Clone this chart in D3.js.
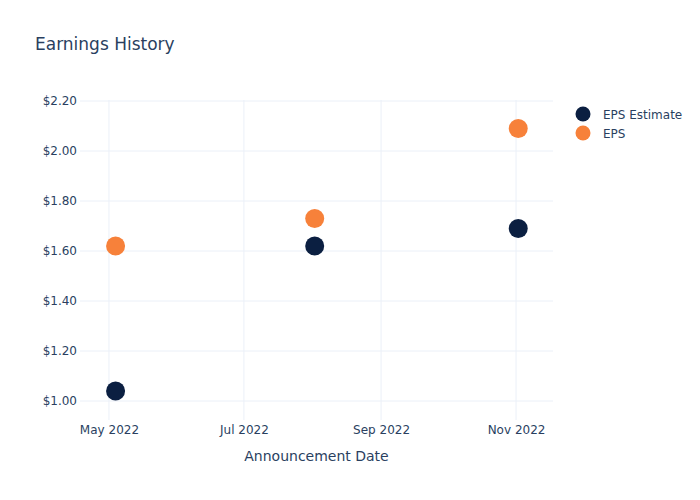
<!DOCTYPE html>
<html>
<head>
<meta charset="utf-8">
<script src="https://cdn.jsdelivr.net/npm/d3@7"></script>
<style>
  html, body { margin: 0; padding: 0; background: #fff; }
  svg { display: block; font-family: "DejaVu Sans", sans-serif; }
</style>
</head>
<body>
<svg id="chart" width="700" height="500"></svg>
<script>
// ---- data ----
const dates = ["2022-05-04", "2022-08-02", "2022-11-02"];
const epsEstimate = [1.04, 1.62, 1.69];
const eps = [1.62, 1.73, 2.09];
const seriesNames = ["EPS Estimate", "EPS"];
const yTicks = [1.0, 1.2, 1.4, 1.6, 1.8, 2.0, 2.2];
const xTicks = ["2022-05-01", "2022-07-01", "2022-09-01", "2022-11-01"];

// ---- layout ----
const W = 700, H = 500;
const margin = { left: 80, right: 147, top: 100, bottom: 80 };
const pw = W - margin.left - margin.right;
const ph = H - margin.top - margin.bottom;
const textColor = "#2a3f5f";
const gridColor = "#ebf0f8";
const colors = ["#0b1f41", "#f7813a"];

const parse = d3.utcParse("%Y-%m-%d");
const svg = d3.select("#chart");

const x = d3.scaleUtc()
  .domain([new Date(Date.UTC(2022, 3, 17, 22)), new Date(Date.UTC(2022, 10, 17, 17))])
  .range([margin.left, margin.left + pw]);
const y = d3.scaleLinear()
  .domain([0.924, 2.204])
  .range([margin.top + ph, margin.top]);

// grid
const g = svg.append("g");
g.selectAll("line.xg").data(xTicks).enter().append("line")
  .attr("x1", d => x(parse(d))).attr("x2", d => x(parse(d)))
  .attr("y1", margin.top).attr("y2", margin.top + ph)
  .attr("stroke", gridColor).attr("stroke-width", 1);
g.selectAll("line.yg").data(yTicks).enter().append("line")
  .attr("x1", margin.left).attr("x2", margin.left + pw)
  .attr("y1", d => y(d)).attr("y2", d => y(d))
  .attr("stroke", gridColor).attr("stroke-width", 1);

// axes
const xAxis = d3.axisBottom(x)
  .tickValues(xTicks.map(parse))
  .tickFormat(d3.utcFormat("%b %Y"))
  .tickSize(0).tickPadding(5);
svg.append("g").attr("transform", `translate(0,${margin.top + ph})`).call(xAxis)
  .call(a => a.select(".domain").remove())
  .selectAll("text").attr("fill", textColor).style("font-size", "12px")
  .style("font-family", "DejaVu Sans, sans-serif");

const yAxis = d3.axisLeft(y)
  .tickValues(yTicks)
  .tickFormat(d => "$" + d3.format(".2f")(d))
  .tickSize(0).tickPadding(3);
svg.append("g").attr("transform", `translate(${margin.left},0)`).call(yAxis)
  .call(a => a.select(".domain").remove())
  .selectAll("text").attr("fill", textColor).style("font-size", "12px")
  .style("font-family", "DejaVu Sans, sans-serif");

// points
const series = [epsEstimate, eps];
series.forEach((vals, si) => {
  svg.append("g").selectAll("circle").data(vals).enter().append("circle")
    .attr("cx", (d, i) => x(parse(dates[i])))
    .attr("cy", d => y(d))
    .attr("r", 9.5)
    .attr("fill", colors[si]);
});

// title
svg.append("text").attr("x", 35).attr("y", 50)
  .attr("fill", textColor).style("font-size", "17px").text("Earnings History");

// x axis title
svg.append("text").attr("x", margin.left + pw / 2).attr("y", 461)
  .attr("text-anchor", "middle").attr("fill", textColor)
  .style("font-size", "14px").text("Announcement Date");

// legend
const leg = svg.append("g").attr("transform", "translate(583,114)");
seriesNames.forEach((n, i) => {
  leg.append("circle").attr("cx", 0).attr("cy", i * 19).attr("r", 7.5).attr("fill", colors[i]);
  leg.append("text").attr("x", 20).attr("y", i * 19 + 4.5)
    .attr("fill", textColor).style("font-size", "12px").text(n);
});
</script>
</body>
</html>
